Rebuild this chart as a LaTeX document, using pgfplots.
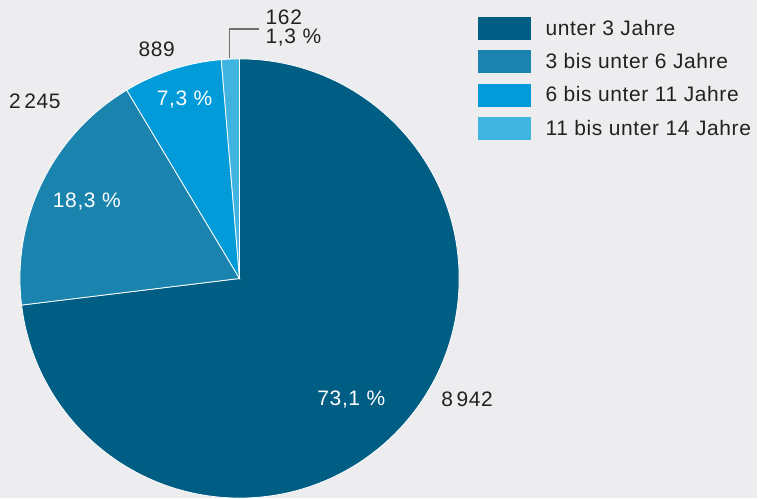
\documentclass[border=0pt]{standalone}
\usepackage{pgfplots}
\usepackage{pgfplotstable}
\pgfplotsset{compat=1.18}
\usepackage{fontspec}
\setmainfont[LetterSpace=3]{Liberation Sans}
\definecolor{bg}{HTML}{EDECEF}
\definecolor{c1}{HTML}{005D84}
\definecolor{c2}{HTML}{1A84AE}
\definecolor{c3}{HTML}{009BD8}
\definecolor{c4}{HTML}{40B4E1}
\definecolor{lead}{HTML}{707070}
\definecolor{txt}{HTML}{222222}

\pgfplotstableread{
count
8942
2245
889
162
}\piedata

\pgfplotstablegetelem{0}{count}\of\piedata \edef\va{\pgfplotsretval}
\pgfplotstablegetelem{1}{count}\of\piedata \edef\vb{\pgfplotsretval}
\pgfplotstablegetelem{2}{count}\of\piedata \edef\vc{\pgfplotsretval}
\pgfplotstablegetelem{3}{count}\of\piedata \edef\vd{\pgfplotsretval}
\pgfmathsetmacro\tot{\va+\vb+\vc+\vd}
\pgfmathsetmacro\aA{90}
\pgfmathsetmacro\aB{\aA-360*(\va/\tot)}
\pgfmathsetmacro\aC{\aB-360*(\vb/\tot)}
\pgfmathsetmacro\aD{\aC-360*(\vc/\tot)}
\pgfmathsetmacro\aE{\aD-360*(\vd/\tot)}

\newcommand\pieslice[3]{%
  \fill[#1, draw=white, line width=0.8pt] (axis cs:240,220) -- (axis cs:{240+220*cos(#2)},{220+220*sin(#2)}) arc[start angle=#2, end angle=#3, radius=220] -- cycle;}

\begin{document}
\begin{tikzpicture}
\begin{axis}[
  scale only axis, width=758bp, height=499bp,
  xmin=0, xmax=758, ymin=0, ymax=499,
  hide axis, clip=false,
  legend style={at={(axis cs:479,482)}, anchor=north west, draw=none, fill=none,
    font=\fontsize{21bp}{24bp}\selectfont\color{txt}, inner sep=0pt, row sep=11bp,
    cells={anchor=west, text height=15bp, text depth=4bp},
    nodes={inner xsep=7bp, inner ysep=0pt},
    /tikz/every odd column/.append style={column sep=8bp}},
]
\fill[bg] (axis cs:0,0) rectangle (axis cs:758,499);
\pieslice{c1}{\aA}{\aB}
\pieslice{c2}{\aB}{\aC}
\pieslice{c3}{\aC}{\aD}
\pieslice{c4}{\aD}{\aE}

\draw[lead, line width=1.3pt] (axis cs:230,441) -- (axis cs:230,470) -- (axis cs:259,470);

\begin{scope}[every node/.style={font=\fontsize{21bp}{24bp}\selectfont}]
\node[white] at (axis cs:352,99) {73,1 \%};
\node[white] at (axis cs:87,297) {18,3 \%};
\node[white] at (axis cs:185,399) {7,3 \%};
\node[txt] at (axis cs:468,99) {8\,942};
\node[txt] at (axis cs:35,398) {2\,245};
\node[txt] at (axis cs:157,450) {889};
\node[txt, anchor=west, inner sep=0pt] at (axis cs:266,482) {162};
\node[txt, anchor=west, inner sep=0pt] at (axis cs:266,461) {1,3 \%};
\end{scope}

\addlegendimage{legend image code/.code={\fill[c1] (0bp,-11bp) rectangle (52bp,11bp);}}
\addlegendentry{unter 3 Jahre}
\addlegendimage{legend image code/.code={\fill[c2] (0bp,-11bp) rectangle (52bp,11bp);}}
\addlegendentry{3 bis unter 6 Jahre}
\addlegendimage{legend image code/.code={\fill[c3] (0bp,-11bp) rectangle (52bp,11bp);}}
\addlegendentry{6 bis unter 11 Jahre}
\addlegendimage{legend image code/.code={\fill[c4] (0bp,-11bp) rectangle (52bp,11bp);}}
\addlegendentry{11 bis unter 14 Jahre}
\end{axis}
\end{tikzpicture}
\end{document}
